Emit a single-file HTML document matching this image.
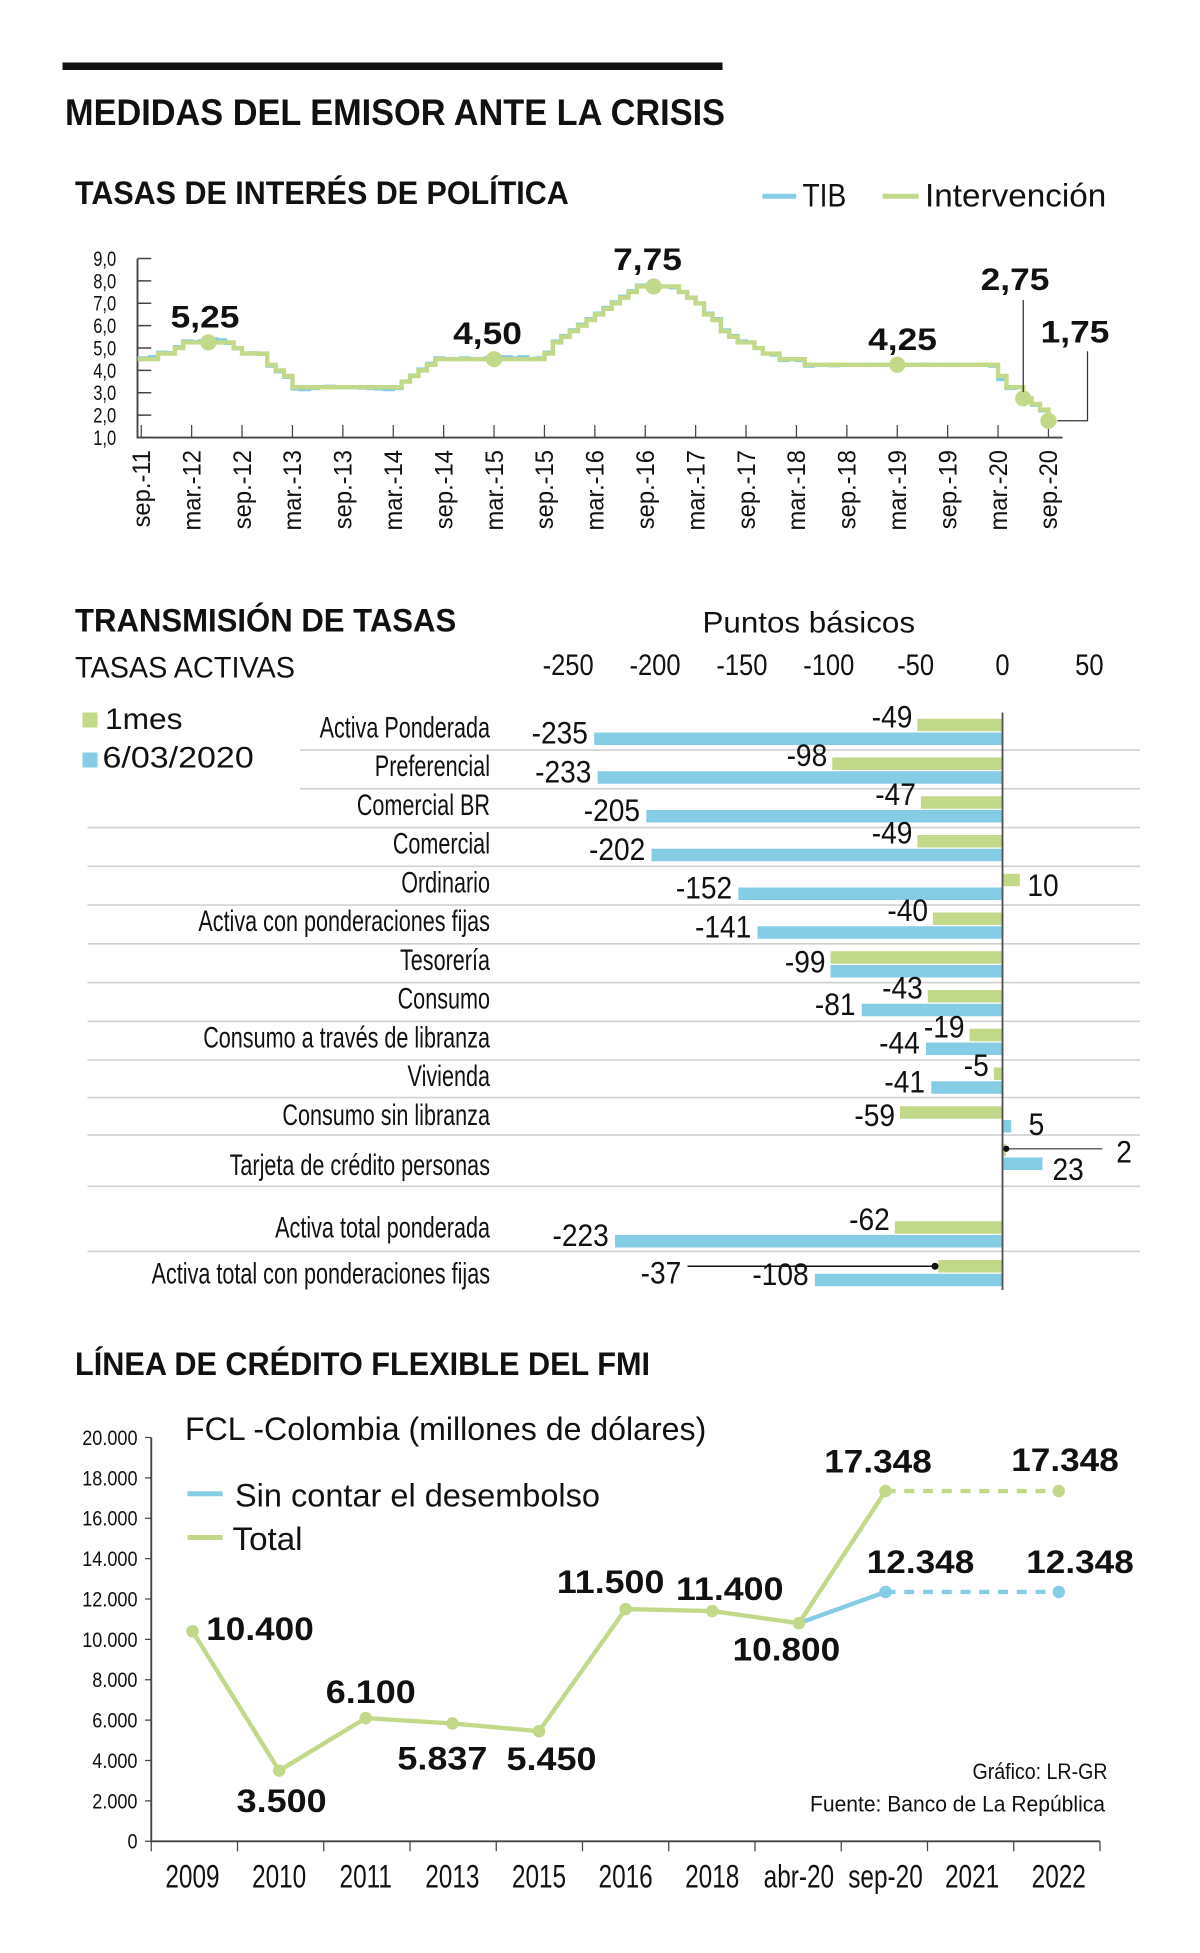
<!DOCTYPE html>
<html><head><meta charset="utf-8"><style>
html,body{margin:0;padding:0;background:#fff;}
svg{display:block;}
text{font-family:"Liberation Sans",sans-serif;fill:#111;}
.b{font-weight:bold;}
</style></head><body>
<svg id="s" width="1200" height="1953" viewBox="0 0 960 1562.4" xmlns="http://www.w3.org/2000/svg">
<rect x="50" y="50" width="528" height="6" fill="#111"/>
<text class="b" x="52" y="100" font-size="30" textLength="528" lengthAdjust="spacingAndGlyphs">MEDIDAS DEL EMISOR ANTE LA CRISIS</text>

<text class="b" x="60" y="163" font-size="26" textLength="395" lengthAdjust="spacingAndGlyphs">TASAS DE INTERÉS DE POLÍTICA</text>
<line x1="610" y1="157" x2="637" y2="157" stroke="#85cce5" stroke-width="4"/>
<text x="642" y="165" font-size="26" textLength="35" lengthAdjust="spacingAndGlyphs">TIB</text>
<line x1="706" y1="157" x2="735" y2="157" stroke="#c2d98a" stroke-width="4"/>
<text x="740" y="165" font-size="26" textLength="145" lengthAdjust="spacingAndGlyphs">Intervención</text>
<g id="c1"></g>

<text class="b" x="60" y="505" font-size="26" textLength="305" lengthAdjust="spacingAndGlyphs">TRANSMISIÓN DE TASAS</text>
<text x="60" y="542" font-size="24" textLength="176" lengthAdjust="spacingAndGlyphs">TASAS ACTIVAS</text>
<text x="562" y="506" font-size="24" textLength="170" lengthAdjust="spacingAndGlyphs">Puntos básicos</text>
<rect x="66" y="570" width="12" height="12" fill="#c2d98a"/>
<text x="84" y="583" font-size="24" textLength="62" lengthAdjust="spacingAndGlyphs">1mes</text>
<rect x="66" y="602" width="12" height="12" fill="#85cce5"/>
<text x="82" y="614" font-size="24" textLength="121" lengthAdjust="spacingAndGlyphs">6/03/2020</text>
<g id="c2"></g>

<text class="b" x="60" y="1100" font-size="26" textLength="460" lengthAdjust="spacingAndGlyphs">LÍNEA DE CRÉDITO FLEXIBLE DEL FMI</text>
<text x="148" y="1152" font-size="26" textLength="417" lengthAdjust="spacingAndGlyphs">FCL -Colombia (millones de dólares)</text>
<line x1="150" y1="1195" x2="178" y2="1195" stroke="#85cce5" stroke-width="4"/>
<text x="188" y="1205" font-size="26" textLength="292" lengthAdjust="spacingAndGlyphs">Sin contar el desembolso</text>
<line x1="150" y1="1230" x2="178" y2="1230" stroke="#c2d98a" stroke-width="4"/>
<text x="186" y="1240" font-size="26" textLength="56" lengthAdjust="spacingAndGlyphs">Total</text>
<g id="c3"></g>
<text x="886" y="1423" font-size="18" text-anchor="end" textLength="108" lengthAdjust="spacingAndGlyphs">Gráfico: LR-GR</text>
<text x="884" y="1449" font-size="18" text-anchor="end" textLength="236" lengthAdjust="spacingAndGlyphs">Fuente: Banco de La República</text>
</svg>
<script>
// ---------- Chart 1 data ----------
const rateTicks = ["sep.-11","mar.-12","sep.-12","mar.-13","sep.-13","mar.-14","sep.-14","mar.-15","sep.-15","mar.-16","sep.-16","mar.-17","sep.-17","mar.-18","sep.-18","mar.-19","sep.-19","mar.-20","sep.-20"];
const yTicks1 = [1,2,3,4,5,6,7,8,9];
const intervencion = [4.5,4.5,4.75,4.75,
5.0,5.25,5.25,5.25,5.25,5.25,5.25,5.0,4.75,4.75,4.75,4.25,
4.0,3.75,3.25,3.25,3.25,3.25,3.25,3.25,3.25,3.25,3.25,3.25,
3.25,3.25,3.25,3.5,3.75,4.0,4.25,4.5,4.5,4.5,4.5,4.5,
4.5,4.5,4.5,4.5,4.5,4.5,4.5,4.5,4.75,5.25,5.5,5.75,
6.0,6.25,6.5,6.75,7.0,7.25,7.5,7.75,7.75,7.75,7.75,7.75,
7.5,7.25,7.0,6.5,6.25,5.75,5.5,5.25,5.25,5.0,4.75,4.75,
4.5,4.5,4.5,4.25,4.25,4.25,4.25,4.25,4.25,4.25,4.25,4.25,
4.25,4.25,4.25,4.25,4.25,4.25,4.25,4.25,4.25,4.25,4.25,4.25,
4.25,4.25,3.75,3.25,3.25,2.75,2.5,2.25,1.75];
const tib = [4.55,4.6,4.8,4.78,
5.05,5.3,5.28,5.32,5.4,5.35,5.22,4.98,4.75,4.77,4.73,4.2,
3.95,3.7,3.18,3.15,3.2,3.26,3.28,3.25,3.24,3.26,3.22,3.2,
3.18,3.15,3.2,3.5,3.78,4.05,4.3,4.55,4.52,4.5,4.55,4.5,
4.52,4.55,4.5,4.6,4.55,4.6,4.5,4.55,4.8,5.3,5.55,5.8,
6.05,6.3,6.55,6.8,7.05,7.3,7.55,7.8,7.8,7.75,7.75,7.7,
7.5,7.25,7.0,6.55,6.3,5.8,5.55,5.3,5.25,5.0,4.75,4.7,
4.45,4.5,4.45,4.2,4.25,4.25,4.22,4.25,4.25,4.25,4.26,4.25,
4.25,4.25,4.26,4.25,4.25,4.27,4.25,4.25,4.26,4.25,4.25,4.25,
4.25,4.2,3.6,3.2,3.25,2.7,2.45,2.2,1.7];
const calloutIdx = [8,42,61,90,105,108];
const calloutTxt = ["5,25","4,50","7,75","4,25","2,75","1,75"];

// ---------- Chart 2 data ----------
const rowLabels = ["Activa Ponderada","Preferencial","Comercial BR","Comercial","Ordinario","Activa con ponderaciones fijas","Tesorería","Consumo","Consumo a través de libranza","Vivienda","Consumo sin libranza","Tarjeta de crédito personas","Activa total ponderada","Activa total con ponderaciones fijas"];
const mes1 = [-49,-98,-47,-49,10,-40,-99,-43,-19,-5,-59,2,-62,-37];
const mar2020 = [-235,-233,-205,-202,-152,-141,-99,-81,-44,-41,5,23,-223,-108];
const bpTicks = [-250,-200,-150,-100,-50,0,50];

// ---------- Chart 3 data ----------
const fclCats = ["2009","2010","2011","2013","2015","2016","2018","abr-20","sep-20","2021","2022"];
const fclTotal = [10400,3500,6100,5837,5450,11500,11400,10800,17348,null,17348];
const fclSin = [null,null,null,null,null,null,null,10800,12348,null,12348];
const fclTicks = [0,2000,4000,6000,8000,10000,12000,14000,16000,18000,20000];

const NS="http://www.w3.org/2000/svg";
function mk(parent,tag,attrs,txt){const e=document.createElementNS(NS,tag);for(const k in attrs)e.setAttribute(k,attrs[k]);if(txt!==undefined)e.textContent=txt;parent.appendChild(e);return e;}
const GREEN="#c2d98a", BLUE="#85cce5";

// ===== Chart 1 =====
(function(){
const g=document.getElementById('c1');
const x=i=>113+i*6.72;
const y=v=>350-(v-1)*17.9;
const ax=mk(g,'path',{d:'M110 207 V350 H850',fill:'none',stroke:'#444','stroke-width':1.5});


yTicks1.forEach(v=>{
 const t=mk(g,'line',{x1:110,x2:121,y1:y(v),y2:y(v),stroke:'#444','stroke-width':1.2});
 
 
 const l=mk(g,'text',{x:93/0.78,y:y(v)+6,'font-size':17,'text-anchor':'end',transform:'scale(0.78,1)'},v.toFixed(1).replace('.',','));
 
 
});
rateTicks.forEach((s,k)=>{
 const xx=x(k*6);
 const t=mk(g,'line',{x1:xx,x2:xx,y1:350,y2:340,stroke:'#444','stroke-width':1});
 
 
 const l=mk(g,'text',{x:0,y:0,'font-size':20,'text-anchor':'end',transform:`translate(${xx+7},360) rotate(-90) scale(0.95,1)`},s);
 
 
});
function step(arr){let d='';arr.forEach((v,i)=>{d+=(i?`H${x(i)}V${y(v)}`:`M${x(i)-3} ${y(v)}`);});return d+`H${x(arr.length-1)+3}`;}
const pt=mk(g,'path',{d:step(tib),fill:'none',stroke:BLUE,'stroke-width':3});


const pg=mk(g,'path',{d:step(intervencion),fill:'none',stroke:GREEN,'stroke-width':3.5});


const lblPos=[[164,262],[390,275],[518,216],[722,280],[812,232],[860,274]];
calloutIdx.forEach((idx,k)=>{
 const cx=x(idx), cy=y(intervencion[idx]);
 const c=mk(g,'circle',{cx:cx,cy:cy,r:6.5,fill:GREEN});
 
 
 const t=mk(g,'text',{x:lblPos[k][0],y:lblPos[k][1],'font-size':25,'font-weight':'bold','text-anchor':'middle',textLength:55,lengthAdjust:'spacingAndGlyphs'},calloutTxt[k]);
 
 
 if(k===4){const ln=mk(g,'line',{x1:cx,x2:cx,y1:240,y2:cy-5,stroke:'#333','stroke-width':1});}
 if(k===5){const ln=mk(g,'path',{d:`M870 281 V${cy} H${cx+7}`,fill:'none',stroke:'#333','stroke-width':1});}
});
})();

// ===== Chart 2 =====
(function(){
const g=document.getElementById('c2');
const zero=802, k=1.39;
const x=v=>zero+v*k;
const rowY=[575,606,637,668,699,730,761,792,823,854,885,915,977,1008];
const seps=[600,631,662,693,724,755,786,817,848,878,908,949,1001];
bpTicks.forEach(v=>{
 const t=mk(g,'text',{x:x(v)/0.85,y:540,'font-size':24,'text-anchor':'middle',transform:'scale(0.85,1)'},String(v));
 
 
});
seps.forEach((sy,i)=>{
 const l=mk(g,'line',{x1:i<2?240:70,x2:912,y1:sy,y2:sy,stroke:'#d0d0d0','stroke-width':1.3});
 
 
});
rowLabels.forEach((lab,i)=>{
 const gy=rowY[i], by=gy+11;
 const ly=(i===11)?940:(i===12?990:(i===13?1027:gy+15));
 const t=mk(g,'text',{x:392/0.72,y:ly,'font-size':24,'text-anchor':'end',transform:'scale(0.72,1)'},lab);
 
 
 const gv=mes1[i], bv=mar2020[i];
 const gr=mk(g,'rect',{x:Math.min(x(gv),zero),y:gy,width:Math.max(Math.abs(gv*k),1),height:10,fill:GREEN});
 
 
 const br=mk(g,'rect',{x:Math.min(x(bv),zero),y:by,width:Math.abs(bv*k),height:10,fill:BLUE});
 
 
 function lbl(val,px,py,anchor){const e=mk(g,'text',{x:px/0.9,y:py,'font-size':25,'text-anchor':anchor,transform:'scale(0.9,1)'},String(val));}
 if(i===11){lbl(gv,893,930,'start');const ln=mk(g,'line',{x1:805,x2:882,y1:919,y2:919,stroke:'#666','stroke-width':1.2});const d=mk(g,'circle',{cx:805,cy:919,r:2.5,fill:'#111'});}
 else if(i===13){lbl(gv,545,1027,'end');const ln=mk(g,'line',{x1:550,x2:748,y1:1013,y2:1013,stroke:'#111','stroke-width':1.2});const d=mk(g,'circle',{cx:748,cy:1013,r:2.8,fill:'#111'});}
 else if(gv>0){lbl(gv,x(gv)+6,gy+18,'start');}
 else {lbl(gv,x(gv)-4,(i===6?gy+17:(i===10?gy+16:gy+7)),'end');}
 if(i===6){}
 else if(bv>0){lbl(bv,x(bv)+(i===11?8:14),by+(i===11?18:12),'start');}
 else lbl(bv,x(bv)-5,by+9,'end');
});
const z=mk(g,'line',{x1:zero,x2:zero,y1:570,y2:1032,stroke:'#555','stroke-width':1.5});


})();

// ===== Chart 3 =====
(function(){
const g=document.getElementById('c3');
const x=i=>154+i*69.3;
const y=v=>1473-v*0.01615;
const ax=mk(g,'path',{d:'M121 1150 V1473 H880',fill:'none',stroke:'#444','stroke-width':1.5});


fclTicks.forEach(v=>{
 const t=mk(g,'line',{x1:116,x2:121,y1:y(v),y2:y(v),stroke:'#444','stroke-width':1});
 
 
 const l=mk(g,'text',{x:110/0.85,y:y(v)+6,'font-size':17,'text-anchor':'end',transform:'scale(0.85,1)'},v===0?'0':v.toLocaleString('de-DE'));
 
 
});
for(let i=0;i<=fclCats.length;i++){
 const xx=121+i*69.0;
 const t=mk(g,'line',{x1:xx,x2:xx,y1:1473,y2:1481,stroke:'#444','stroke-width':1});
 
 
}
fclCats.forEach((c,i)=>{
 const l=mk(g,'text',{x:x(i)/0.75,y:1510,'font-size':26,'text-anchor':'middle',transform:'scale(0.75,1)'},c);
 
 
});
let d='';for(let i=0;i<=8;i++)d+=(i?'L':'M')+x(i)+' '+y(fclTotal[i]);
const lt=mk(g,'path',{d:d,fill:'none',stroke:GREEN,'stroke-width':3.5});


const ltd=mk(g,'line',{x1:x(8),y1:y(fclTotal[8]),x2:x(10),y2:y(fclTotal[10]),stroke:GREEN,'stroke-width':3.5,'stroke-dasharray':'8 7'});


const ls=mk(g,'line',{x1:x(7),y1:y(fclSin[7]),x2:x(8),y2:y(fclSin[8]),stroke:BLUE,'stroke-width':3.5});


const lsd=mk(g,'line',{x1:x(8),y1:y(fclSin[8]),x2:x(10),y2:y(fclSin[10]),stroke:BLUE,'stroke-width':3.5,'stroke-dasharray':'8 7'});


const off=[[54,7],[2,33],[4,-12],[-8,37],[10,31],[-12,-13],[14,-9],[-10,30],[-6,-15],[0,0],[5,-16]];
fclTotal.forEach((v,i)=>{
 if(v===null)return;
 const c=mk(g,'circle',{cx:x(i),cy:y(v),r:5,fill:GREEN});
 
 
 const t=mk(g,'text',{x:x(i)+off[i][0],y:y(v)+off[i][1],'font-size':26,'font-weight':'bold','text-anchor':'middle',textLength:(v>=10000?86:72),lengthAdjust:'spacingAndGlyphs'},v.toLocaleString('de-DE'));
 
 
});
fclSin.forEach((v,i)=>{
 if(v===null||i===7)return;
 const c=mk(g,'circle',{cx:x(i),cy:y(v),r:5,fill:BLUE});
 
 
 const t=mk(g,'text',{x:x(i)+(i===8?28:17),y:y(v)-15,'font-size':26,'font-weight':'bold','text-anchor':'middle',textLength:86,lengthAdjust:'spacingAndGlyphs'},v.toLocaleString('de-DE'));
 
 
});
})();
</script>
</body></html>
